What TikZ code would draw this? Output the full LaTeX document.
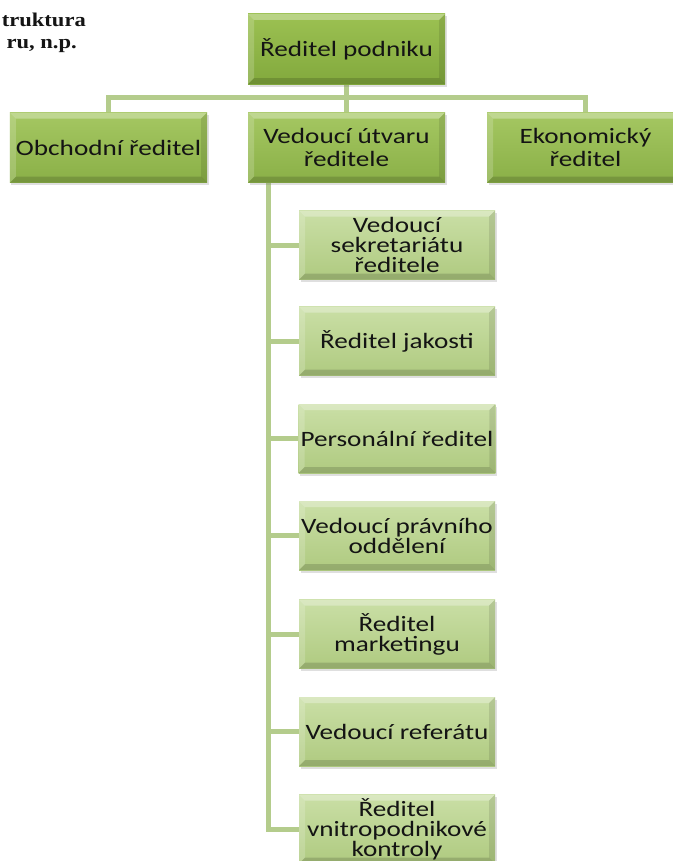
\documentclass[tikz,border=0pt]{standalone}
\usepackage{fontspec}
\setmainfont{Carlito}[FakeStretch=1.24]
\newfontfamily\titlefont{Liberation Serif}[FakeStretch=1.16]
\usetikzlibrary{backgrounds,shadows}
\definecolor{lineG}{HTML}{B4CC8C}
\definecolor{topA}{HTML}{9CC152}
\definecolor{topB}{HTML}{82A93D}
\definecolor{midA}{HTML}{A5C762}
\definecolor{midB}{HTML}{8AB047}
\definecolor{chA}{HTML}{CADFA6}
\definecolor{chB}{HTML}{AFCA80}
\definecolor{txt}{HTML}{141414}
\tikzset{
  bevel/.style={path picture={
    \fill[white,opacity=0.30] (path picture bounding box.north west) -- (path picture bounding box.north east)
      -- ([xshift=-6bp,yshift=-6bp]path picture bounding box.north east) -- ([xshift=6bp,yshift=-6bp]path picture bounding box.north west) -- cycle;
    \fill[white,opacity=0.18] (path picture bounding box.north west) -- ([xshift=6bp,yshift=-6bp]path picture bounding box.north west)
      -- ([xshift=6bp,yshift=6bp]path picture bounding box.south west) -- (path picture bounding box.south west) -- cycle;
    \fill[black,opacity=0.15] (path picture bounding box.south west) -- (path picture bounding box.south east)
      -- ([xshift=-6bp,yshift=6bp]path picture bounding box.south east) -- ([xshift=6bp,yshift=6bp]path picture bounding box.south west) -- cycle;
    \fill[black,opacity=0.10] (path picture bounding box.north east) -- (path picture bounding box.south east)
      -- ([xshift=-6bp,yshift=6bp]path picture bounding box.south east) -- ([xshift=-6bp,yshift=-6bp]path picture bounding box.north east) -- cycle;
  }},
  box/.style={rectangle, minimum width=197bp, minimum height=70bp, inner sep=2bp, align=center,
    text=txt, font=\fontsize{22}{23}\selectfont, bevel,
    drop shadow={opacity=0.25, shadow xshift=1.5bp, shadow yshift=-2.5bp}},
  topbox/.style={box, top color=topA, bottom color=topB},
  midbox/.style={box, top color=midA, bottom color=midB},
  chbox/.style={box, minimum width=196bp, minimum height=69bp, top color=chA, bottom color=chB,
    font=\fontsize{22}{20}\selectfont},
  conn/.style={draw=lineG, line width=5bp},
  ttl/.style={anchor=east, inner sep=0pt, font=\titlefont\bfseries\fontsize{19.5}{22}\selectfont, text=txt}
}
\begin{document}
\begin{tikzpicture}[x=1bp,y=-1bp]
\useasboundingbox (0,0) rectangle (673,861);
\node[ttl] (t1) at (86,20) {truktura};
\node[ttl] (t2) at (77,46) {ru, n.p.};

\node[topbox] (top) at (346.5,49) {Ředitel podniku};
\node[midbox] (obch) at (108.5,147.5) {Obchodní ředitel};
\node[midbox] (ved) at (346.5,147.5) {Vedoucí útvaru\\ředitele};
\node[midbox] (ekon) at (585.5,147.5) {Ekonomický\\ředitel};

\node[chbox] (c1) at (397,245) {Vedoucí\\sekretariátu\\ředitele};
\node[chbox] (c2) at (397,341) {Ředitel jakosti};
\node[chbox] (c3) at (397,438.5) {Personální ředitel};
\node[chbox] (c4) at (397,535.5) {Vedoucí právního\\oddělení};
\node[chbox] (c5) at (397,634) {Ředitel\\marketingu};
\node[chbox] (c6) at (397,731.5) {Vedoucí referátu};
\node[chbox] (c7) at (397,829) {Ředitel\\vnitropodnikové\\kontroly};

\coordinate (bar) at (346.5,97);
\coordinate (sp) at (268,182);
\begin{scope}[on background layer]
\fill[white] (0,0) rectangle (673,861);
\draw[conn] (top.south) -- (ved.north);
\draw[conn] (obch.north) |- (bar) -| (ekon.north);
\draw[conn] (sp) |- (c1.west);
\draw[conn] (sp) |- (c2.west);
\draw[conn] (sp) |- (c3.west);
\draw[conn] (sp) |- (c4.west);
\draw[conn] (sp) |- (c5.west);
\draw[conn] (sp) |- (c6.west);
\draw[conn] (sp) |- (c7.west);
\end{scope}
\end{tikzpicture}
\end{document}
